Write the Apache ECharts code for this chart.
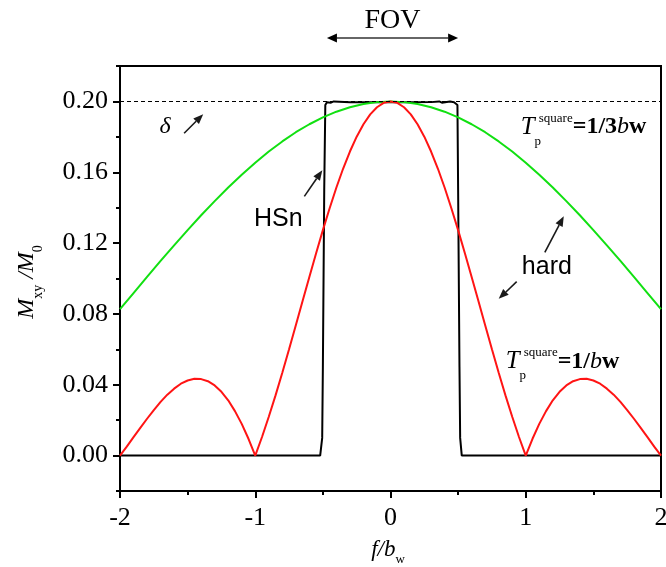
<!DOCTYPE html>
<html><head><meta charset="utf-8">
<script src="https://cdn.jsdelivr.net/npm/echarts@6/dist/echarts.min.js"></script>
<style>html,body{margin:0;padding:0;background:#fff}#c{width:666px;height:567px}</style>
</head><body><div id="c"></div>
<script>
// ---- data ----
const xTicks = [-2, -1, 0, 1, 2];
const yTicks = [0, 0.04, 0.08, 0.12, 0.16, 0.20];
// red curve (T_p = 1/bw), sampled every 0.05
const redX = [-2.0,-1.95,-1.9,-1.85,-1.8,-1.75,-1.7,-1.65,-1.6,-1.55,-1.5,-1.45,-1.4,-1.35,-1.3,-1.25,-1.2,-1.15,-1.1,-1.05,
  -1.0,-0.95,-0.9,-0.85,-0.8,-0.75,-0.7,-0.65,-0.6,-0.55,-0.5,-0.45,-0.4,-0.35,-0.3,-0.25,-0.2,-0.15,-0.1,-0.05,
  0.0,0.05,0.1,0.15,0.2,0.25,0.3,0.35,0.4,0.45,0.5,0.55,0.6,0.65,0.7,0.75,0.8,0.85,0.9,0.95,
  1.0,1.05,1.1,1.15,1.2,1.25,1.3,1.35,1.4,1.45,1.5,1.55,1.6,1.65,1.7,1.75,1.8,1.85,1.9,1.95,2.0];
const redY = [0,0.0051,0.0104,0.0156,0.0208,0.0257,0.0303,0.0344,0.0378,0.0406,0.0424,0.0434,0.0432,0.0420,0.0396,0.0360,0.0312,0.0251,0.0179,0.0095,
  0,0.0105,0.0219,0.0340,0.0468,0.0600,0.0736,0.0873,0.1009,0.1143,0.1273,0.1397,0.1514,0.1621,0.1717,0.1801,0.1871,0.1927,0.1967,0.1992,
  0.2,0.1992,0.1967,0.1927,0.1871,0.1801,0.1717,0.1621,0.1514,0.1397,0.1273,0.1143,0.1009,0.0873,0.0736,0.0600,0.0468,0.0340,0.0219,0.0105,
  0,0.0095,0.0179,0.0251,0.0312,0.0360,0.0396,0.0420,0.0432,0.0434,0.0424,0.0406,0.0378,0.0344,0.0303,0.0257,0.0208,0.0156,0.0104,0.0051,0];
// green curve (T_p = 1/3bw), sampled every 0.1
const greenX = [-2.0,-1.9,-1.8,-1.7,-1.6,-1.5,-1.4,-1.3,-1.2,-1.1,-1.0,-0.9,-0.8,-0.7,-0.6,-0.5,-0.4,-0.3,-0.2,-0.1,0.0,
  0.1,0.2,0.3,0.4,0.5,0.6,0.7,0.8,0.9,1.0,1.1,1.2,1.3,1.4,1.5,1.6,1.7,1.8,1.9,2.0];
const greenY = [0.0827,0.0918,0.1009,0.1099,0.1187,0.1273,0.1357,0.1437,0.1514,0.1586,0.1654,0.1717,0.1774,0.1826,0.1871,0.1910,0.1942,0.1967,0.1985,0.1996,0.2,
  0.1996,0.1985,0.1967,0.1942,0.1910,0.1871,0.1826,0.1774,0.1717,0.1654,0.1586,0.1514,0.1437,0.1357,0.1273,0.1187,0.1099,0.1009,0.0918,0.0827];
// black curve (HSn)
const blackX = [-2,-0.52,-0.505,-0.5,-0.49,-0.482,-0.47,-0.44,-0.42,-0.3,-0.1,0.1,0.3,0.36,0.38,0.44,0.47,0.495,0.5,0.51,0.515,0.527,2];
const blackY = [0,0,0.01,0.05,0.15,0.198,0.1995,0.1993,0.2,0.1995,0.1995,0.1995,0.1996,0.2,0.1993,0.2,0.1995,0.198,0.15,0.05,0.01,0,0];
const deltaLevel = 0.2;
const fovRange = [-0.47, 0.5];

const SERIF = '"Liberation Serif","Times New Roman",serif';
const SANS = '"Liberation Sans",Arial,sans-serif';

const chart = echarts.init(document.getElementById('c'), null, {renderer:'canvas'});

const option = {
  animation: false,
  backgroundColor: '#fff',
  grid: {left:120, right:5, top:66, bottom:76, show:true, borderColor:'#000', borderWidth:2, backgroundColor:'transparent', containLabel:false, outerBoundsMode:'none'},
  xAxis: [
    {type:'value', min:-2, max:2, interval:1, position:'bottom',
     axisLine:{show:true, onZero:false, lineStyle:{color:'#000', width:2}},
     axisTick:{show:true, inside:false, length:7, lineStyle:{color:'#000', width:2}},
     axisLabel:{show:true, margin:14, color:'#000', fontFamily:SERIF, fontSize:26, customValues:xTicks, formatter:v=>String(v)},
     splitLine:{show:false}},
    {type:'value', min:-2, max:2, interval:0.5, position:'bottom',
     axisLine:{show:false, onZero:false}, axisTick:{show:true, length:4, lineStyle:{color:'#000', width:2}},
     axisLabel:{show:false}, splitLine:{show:false}}
  ],
  yAxis: [
    {type:'value', min:-0.02, max:0.22, interval:0.02, position:'left',
     axisLine:{show:true, onZero:false, lineStyle:{color:'#000', width:2}},
     axisTick:{show:true, length:7, customValues:yTicks, lineStyle:{color:'#000', width:2}},
     axisLabel:{show:true, margin:12, color:'#000', fontFamily:SERIF, fontSize:26, customValues:yTicks,
       formatter:v=>{ if (v < -1e-9) return ''; const k=v/0.04; return Math.abs(k-Math.round(k))<1e-6 ? v.toFixed(2) : ''; }},
     splitLine:{show:false}},
    {type:'value', min:-0.02, max:0.22, interval:0.02, position:'left',
     axisLine:{show:false, onZero:false}, axisTick:{show:true, length:4, lineStyle:{color:'#000', width:2}},
     axisLabel:{show:false}, splitLine:{show:false}}
  ],
  series: [
    {type:'line', name:'HSn', data:blackX.map((x,i)=>[x,blackY[i]]), showSymbol:false, smooth:false,
     lineStyle:{color:'#000', width:2}, z:2,
     markLine:{silent:true, symbol:['none','none'], label:{show:false},
       lineStyle:{color:'#000', width:1, type:[4,3]}, data:[{yAxis:deltaLevel}]}},
    {type:'line', name:'1/3bw', data:greenX.map((x,i)=>[x,greenY[i]]), showSymbol:false, smooth:false,
     lineStyle:{color:'#11e011', width:2}, z:3},
    {type:'line', name:'1/bw', data:redX.map((x,i)=>[x,redY[i]]), showSymbol:false, smooth:false,
     lineStyle:{color:'#ff1414', width:2}, z:4}
  ]
};
chart.setOption(option);

// ---- annotations (anchored in data coordinates) ----
const P = (x,y) => chart.convertToPixel({xAxisIndex:0, yAxisIndex:0}, [x,y]);

function head(tip, from, color, hl, hw){
  const dx=tip[0]-from[0], dy=tip[1]-from[1], L=Math.hypot(dx,dy);
  const ux=dx/L, uy=dy/L, bx=tip[0]-ux*hl, by=tip[1]-uy*hl, px=-uy, py=ux;
  return {base:[bx,by], el:{type:'polygon', shape:{points:[[tip[0],tip[1]],[bx+px*hw/2,by+py*hw/2],[bx-px*hw/2,by-py*hw/2]]}, style:{fill:color}, z:100}};
}
function arrow(p1,p2,color,lw,hl,hw){
  const h = head(p2,p1,color,hl,hw);
  return [{type:'line', shape:{x1:p1[0],y1:p1[1],x2:h.base[0],y2:h.base[1]}, style:{stroke:color,lineWidth:lw}, z:100}, h.el];
}
function dblArrow(p1,p2,lineColor,headColor,lw,hl,hw){
  const h1 = head(p2,p1,headColor,hl,hw), h2 = head(p1,p2,headColor,hl,hw);
  return [{type:'line', shape:{x1:h2.base[0],y1:h2.base[1],x2:h1.base[0],y2:h1.base[1]}, style:{stroke:lineColor,lineWidth:lw}, z:100}, h1.el, h2.el];
}
function txt(x,y,text,font,extra){
  return {type:'text', x:x, y:y, z:100, style:Object.assign({text:text, font:font, fill:'#000', align:'center', verticalAlign:'middle'}, extra||{})};
}

const annotArrows = [
  [[-1.526,0.1820],[-1.385,0.1928]],
  [[-0.637,0.1464],[-0.504,0.1611]],
  [[1.141,0.1147],[1.281,0.1351]],
  [[0.933,0.0982],[0.80,0.0885]]
];
const g = [];
annotArrows.forEach(a => g.push(...arrow(P(a[0][0],a[0][1]), P(a[1][0],a[1][1]), '#1a1a1a', 1.6, 10, 8)));

// FOV
const fovA = P(fovRange[0],0), fovB = P(fovRange[1],0);
g.push(...dblArrow([fovA[0],38],[fovB[0],38],'#666','#000',2,10,9));
g.push(txt((fovA[0]+fovB[0])/2, 21, 'FOV', '28px '+SERIF));

// delta
const dP = P(-1.667,0.1855);
g.push(txt(dP[0], dP[1], 'δ', 'italic 24px '+SERIF));
// HSn, hard
const hP = P(-0.83,0.1333);
g.push(txt(hP[0], hP[1], 'HSn', '25px '+SANS));
const hdP = P(1.156,0.1067);
g.push(txt(hdP[0], hdP[1], 'hard', '25px '+SANS));

// T_p^square labels
function tLabel(anchor, rest){
  const a = P(anchor[0], anchor[1]);
  return {type:'group', x:a[0], y:a[1], z:100, children:[
    {type:'text', x:0, y:0, style:{text:'T', font:'italic 25px '+SERIF, fill:'#000', align:'center', verticalAlign:'middle'}},
    {type:'text', x:10, y:14, style:{text:'p', font:'13px '+SERIF, fill:'#000', align:'center', verticalAlign:'middle'}},
    {type:'text', x:11, y:0, style:{text:'{sq|square}{eq|'+rest+'}{b|b}{w|w}', align:'left', verticalAlign:'middle', fill:'#000',
      rich:{
        sq:{fontFamily:SERIF, fontSize:13, lineHeight:14, padding:[0,0,18,0], fill:'#000'},
        eq:{fontFamily:SERIF, fontSize:24, fontWeight:'bold', lineHeight:26, fill:'#000'},
        b:{fontFamily:SERIF, fontSize:24, fontStyle:'italic', lineHeight:26, fill:'#000'},
        w:{fontFamily:SERIF, fontSize:24, fontWeight:'bold', lineHeight:26, fill:'#000'}
      }}}
  ]};
}
g.push(tLabel([1.015,0.1855], '=1/3'));
g.push(tLabel([0.904,0.0530], '=1/'));

// axis titles
g.push({type:'group', x:27, y:282, rotation:Math.PI/2, z:100, children:[
  {type:'text', x:0, y:0, style:{text:'{m|M}{s|xy}{m| /M}{s|0}', align:'center', verticalAlign:'middle', fill:'#000',
    rich:{
      m:{fontFamily:SERIF, fontSize:24, fontStyle:'italic', lineHeight:26, fill:'#000'},
      s:{fontFamily:SERIF, fontSize:14, lineHeight:14, padding:[22,0,0,0], fill:'#000'}
    }}}
]});
g.push({type:'text', x:388, y:550, z:100, style:{text:'{m|f/b}{s|w}', align:'center', verticalAlign:'middle', fill:'#000',
  rich:{
    m:{fontFamily:SERIF, fontSize:23, fontStyle:'italic', lineHeight:26, fill:'#000'},
    s:{fontFamily:SERIF, fontSize:13, lineHeight:14, padding:[20,0,0,0], fill:'#000'}
  }}});

chart.setOption({graphic:{elements:g}});
</script>
</body></html>
